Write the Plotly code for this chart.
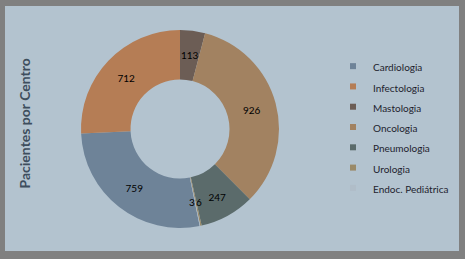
import math
import plotly.graph_objects as go

W, H = 465, 259

categories = ["Cardiologia", "Infectologia", "Mastologia", "Oncologia",
              "Pneumologia", "Urologia", "Endoc. Pediátrica"]
values = [759, 712, 113, 926, 247, 6, 3]
colors = ["#6E8398", "#B57D55", "#6C5D55", "#A28261",
          "#5B6B6B", "#9A8A68", "#B0BDC8"]
axis_title = "Pacientes por Centro"

# pie placement (pixels)
CX, CY, R, HOLE = 180, 129, 99, 0.5

total = sum(values)
# Excel-style: Mastologia starts at 12 o'clock; compute start of first slice
rotation = 360 - (values[0] + values[1]) / total * 360

# small slices get their labels as annotations at mid-ring (Excel style)
small = [v / total < 0.06 for v in values]
textpos = ["none" if s else "inside" for s in small]

fig = go.Figure()
fig.add_trace(go.Pie(
    labels=categories, values=values, sort=False, direction="clockwise",
    rotation=rotation, hole=HOLE,
    marker=dict(colors=colors, line=dict(width=0)),
    textinfo="value", textposition=textpos,
    insidetextorientation="horizontal",
    textfont=dict(family="Lato", size=10, color="#000000"),
    domain=dict(x=[(CX - R) / W, (CX + R) / W], y=[1 - (CY + R) / H, 1 - (CY - R) / H]),
    showlegend=False, hoverinfo="label+value",
))

# labels for small slices at mid-angle, mid-ring
cum = 0.0
small_idx = [i for i, s in enumerate(small) if s]
tiny = [j for j in small_idx if values[j] / total < 0.01]
for i, v in enumerate(values):
    a0 = rotation + cum / total * 360
    cum += v
    if not small[i]:
        continue
    mid = math.radians(a0 + v / total * 360 / 2)
    rr = R * (1 + HOLE) / 2
    px = CX + rr * math.sin(mid)
    py = CY - rr * math.cos(mid)
    anchor = "center"
    # adjacent tiny slices: push labels apart to either side
    if i in tiny and len(tiny) > 1:
        anchor = "left" if i == tiny[0] else "right"
    fig.add_annotation(
        text=str(v), xref="paper", yref="paper", x=px / W, y=1 - py / H,
        xanchor=anchor, yanchor="middle", showarrow=False,
        borderpad=0, borderwidth=0,
        font=dict(family="Lato", size=10, color="#000000"),
    )

for name, col in zip(categories, colors):
    fig.add_trace(go.Scatter(
        x=[None], y=[None], mode="markers",
        name=f"<span style='font-size:10px'>{name}</span>",
        marker=dict(symbol="square", size=6, color=col), showlegend=True,
        hoverinfo="skip",
    ))

fig.add_annotation(
    text=axis_title, textangle=-90, xref="paper", yref="paper",
    x=24 / W, y=1 - 123.5 / H, xanchor="center", yanchor="middle", showarrow=False,
    font=dict(family="Lato", size=14, color="#3E4E5E", weight=700),
)

fig.add_shape(type="rect", xref="paper", yref="paper",
              x0=5 / W, x1=459 / W, y0=1 - 251 / H, y1=1 - 6 / H,
              fillcolor="#B3C3CF", line=dict(width=0), layer="below")

fig.update_layout(
    width=W, height=H, margin=dict(l=0, r=0, t=0, b=0),
    paper_bgcolor="#808080", plot_bgcolor="rgba(0,0,0,0)",
    xaxis=dict(visible=False), yaxis=dict(visible=False),
    uniformtext=dict(minsize=10, mode="show"),
    legend=dict(x=333 / W, xanchor="left", y=1 - 51 / H, yanchor="top",
                font=dict(family="Lato", size=13.3, color="#1E1E2E"),
                bgcolor="rgba(0,0,0,0)", itemclick=False),
    showlegend=True,
)

fig.write_html("out.html")
